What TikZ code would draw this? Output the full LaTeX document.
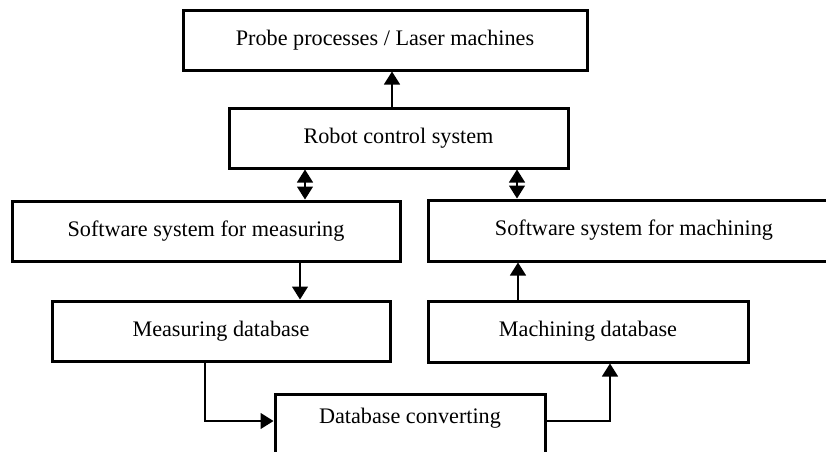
\documentclass[tikz,border=0pt]{standalone}
\usepackage{fontspec}
\setmainfont{Liberation Serif}
\usetikzlibrary{arrows.meta}
\begin{document}
\begin{tikzpicture}[x=0.5pt,y=-0.5pt,
  box/.style={draw,line width=1.5pt,rectangle,inner sep=0pt,
    font=\fontsize{11.1}{13}\selectfont},
  lbl/.style={inner sep=0pt,font=\fontsize{11.1}{13}\selectfont},
  conn/.style={line width=0.6pt,-{Triangle[length=6.5pt,width=8pt]}},
  bidir/.style={line width=0.6pt,{Triangle[length=6.5pt,width=8pt]}-{Triangle[length=6.5pt,width=8pt]}}]
\useasboundingbox (0,0) rectangle (826,451);
\begin{scope}
\clip (0,0) rectangle (826,451);
% boxes, sized in pixel units (1 unit = 0.5pt)
\node[box,minimum width=202pt,minimum height=30pt] (probe) at (385,40) {Probe processes / Laser machines};
\node[box,minimum width=169.5pt,minimum height=30pt] (robot) at (398.5,138) {Robot control system};
\node[box,minimum width=194pt,minimum height=30pt] (swmeas) at (206,231) {Software system for measuring};
\node[box,minimum width=206pt,minimum height=30.5pt] (swmach) at (634,230.5) {Software system for machining};
\node[box,minimum width=169pt,minimum height=30pt] (measdb) at (221,331) {Measuring database};
\node[box,minimum width=160pt,minimum height=30.5pt] (machdb) at (588,331.5) {Machining database};
\node[box,minimum width=135pt,minimum height=40pt,anchor=north] (dbconv) at (410,393) {};
\node[lbl] (dbconvtext) at (410,418) {Database converting};
% connectors
\draw[conn] (robot.north -| 392,0) -- (probe.south -| 392,0);
\draw[bidir] (robot.south -| swmeas.north -| 305,0) -- (swmeas.north -| 305,0);
\draw[bidir] (robot.south -| 517,0) -- (swmach.north -| 517,0);
\draw[conn] (swmeas.south -| 300,0) -- (measdb.north -| 300,0);
\draw[conn] (machdb.north -| 518,0) -- (swmach.south -| 518,0);
\coordinate (jl) at (205,421);
\coordinate (jr) at (610,421);
\draw[conn] (measdb.south -| jl) |- (dbconv.west |- jl);
\draw[conn] (dbconv.east |- jr) -| (machdb.south -| jr);
\end{scope}
\end{tikzpicture}
\end{document}
